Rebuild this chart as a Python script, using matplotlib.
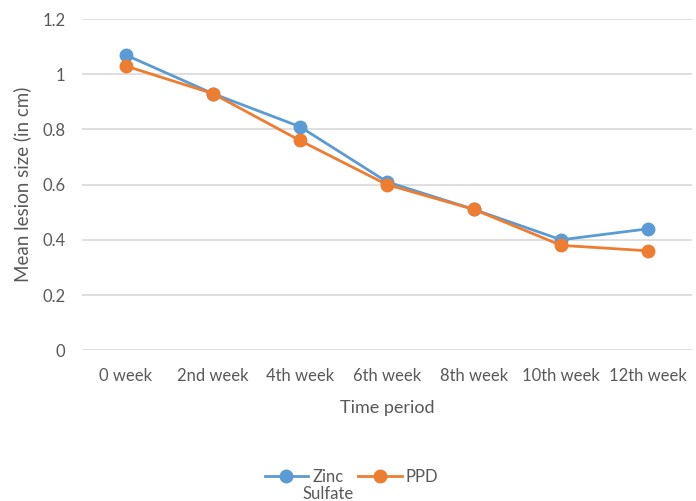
import matplotlib
matplotlib.use("Agg")
import matplotlib.pyplot as plt

weeks = ["0 week", "2nd week", "4th week", "6th week", "8th week", "10th week", "12th week"]
zinc = [1.07, 0.93, 0.81, 0.61, 0.51, 0.40, 0.44]
ppd = [1.03, 0.93, 0.76, 0.60, 0.51, 0.38, 0.36]
yticks = [0, 0.2, 0.4, 0.6, 0.8, 1, 1.2]
ytick_labels = ["0", "0.2", "0.4", "0.6", "0.8", "1", "1.2"]

plt.rcParams['font.family'] = ['Lato', 'DejaVu Sans']
grey = "#595959"

fig = plt.figure(figsize=(6.96, 5.01), dpi=100)
ax = fig.add_axes([0.118, 0.301, 0.876, 0.661])

x = range(len(weeks))
ax.plot(x, zinc, color="#5B9BD5", lw=2, marker="o", ms=9, label="Zinc", zorder=3)
ax.plot(x, ppd, color="#ED7D31", lw=2, marker="o", ms=9, label="PPD", zorder=4)

ax.set_xlim(-0.5, len(weeks) - 0.5)
ax.set_ylim(0, 1.2)
ax.set_yticks(yticks)
ax.set_yticklabels(ytick_labels)
ax.set_xticks(list(x))
ax.set_xticklabels(weeks)
ax.grid(axis="y", color="#D9D9D9", lw=1.2)
ax.set_axisbelow(True)
for s in ax.spines.values():
    s.set_visible(False)
ax.tick_params(length=0, colors=grey, labelsize=12)
ax.tick_params(axis="x", pad=13)
ax.tick_params(axis="y", pad=12)

ax.set_xlabel("Time period", fontsize=13, color=grey, labelpad=11)
ax.set_ylabel("Mean lesion size (in cm)", fontsize=13.5, color=grey, labelpad=8)

leg = fig.legend(loc="center", bbox_to_anchor=(0.505, 0.048), ncol=2, frameon=False,
                 fontsize=12, handlelength=2.6, columnspacing=0.9, handletextpad=0.25)
for t in leg.get_texts():
    t.set_color(grey)

# second line of the "Zinc Sulfate" label, centred under "Zinc"
fig.canvas.draw()
bb = leg.get_texts()[0].get_window_extent().transformed(fig.transFigure.inverted())
fig.text((bb.x0 + bb.x1) / 2, bb.y0 - 0.002, "Sulfate", ha="center", va="top",
         fontsize=12, color=grey)

fig.savefig("out.png", dpi=100)
